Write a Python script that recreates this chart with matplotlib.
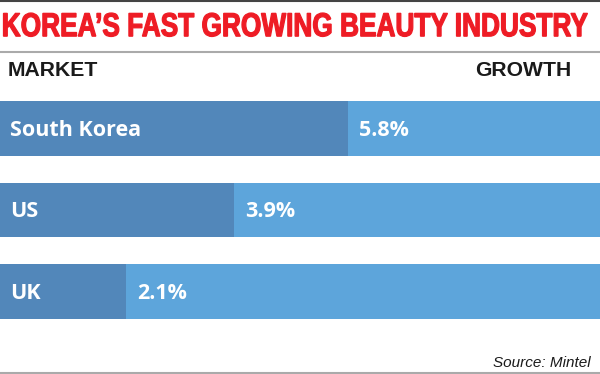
import matplotlib
matplotlib.use("Agg")
import matplotlib.pyplot as plt
from matplotlib.lines import Line2D
from matplotlib.textpath import TextPath
from matplotlib.patches import PathPatch
from matplotlib.font_manager import FontProperties
from matplotlib.transforms import Affine2D

title = "KOREA\u2019S FAST GROWING BEAUTY INDUSTRY"
markets = ["South Korea", "US", "UK"]
growth = [5.8, 3.9, 2.1]
source = "Source: Mintel"

DARK = "#5287BA"
LIGHT = "#5DA5DB"
RED = "#EE1C25"

fig = plt.figure(figsize=(6, 3.74), dpi=100)
W, H = 600, 374

# overlay in pixel coordinates for the title and rules
ov = fig.add_axes([0, 0, 1, 1], zorder=5)
ov.set_xlim(0, W)
ov.set_ylim(H, 0)
ov.axis("off")

# condensed title: squeeze a bold face into the box x 3..588, caps 13..37
tp = TextPath((0, 0), title, size=50, prop=FontProperties(family="Liberation Sans", weight="bold"))
ext = tp.get_extents()
sx = 584 / ext.width
sy = 23.5 / ext.height
tr = Affine2D().translate(-ext.x0, -ext.y0).scale(sx, -sy).translate(3.5, 36.5) + ov.transData
ov.add_patch(PathPatch(tp, facecolor=RED, edgecolor=RED, lw=0.9, transform=tr))

# rules
for y, c, lw in [(0.5, "#444444", 1.5), (52, "#aaaaaa", 1.5), (372.5, "#aaaaaa", 1.5)]:
    ov.add_line(Line2D([0, W], [y, y], color=c, lw=lw))

hdr = dict(fontsize=15.2, fontweight="bold", color="#1a1a1a",
           family=["Liberation Sans", "DejaVu Sans"], va="baseline")
fig.text(8 / W, 1 - 75.5 / H, "MARKET", ha="left", **hdr)
fig.text(571 / W, 1 - 75.5 / H, "GROWTH", ha="right", **hdr)

# bars
ax = fig.add_axes([0, 1 - 332.25 / H, 1, 244.5 / H])
ypos = range(len(markets))
ax.barh(ypos, [10] * len(markets), height=0.67, color=LIGHT, align="center")
ax.barh(ypos, growth, height=0.67, color=DARK, align="center")
ax.set_xlim(0, 10)
ax.set_ylim(2.5, -0.5)
ax.axis("off")

lab = dict(color="white", fontsize=15.5, fontweight="bold",
           family=["Open Sans", "DejaVu Sans"], va="center")
for i, (m, g) in enumerate(zip(markets, growth)):
    ax.text(0.17, i + 0.02, m, ha="left", **lab)
    ax.text(g + 0.18, i + 0.02, f"{g:.1f}%", ha="left", **lab)

fig.text(591 / W, 1 - 367 / H, source, ha="right", va="baseline", fontsize=11,
         style="italic", color="#1a1a1a", family=["Liberation Sans", "DejaVu Sans"])

fig.savefig("out.png", dpi=100)
plt.close(fig)
